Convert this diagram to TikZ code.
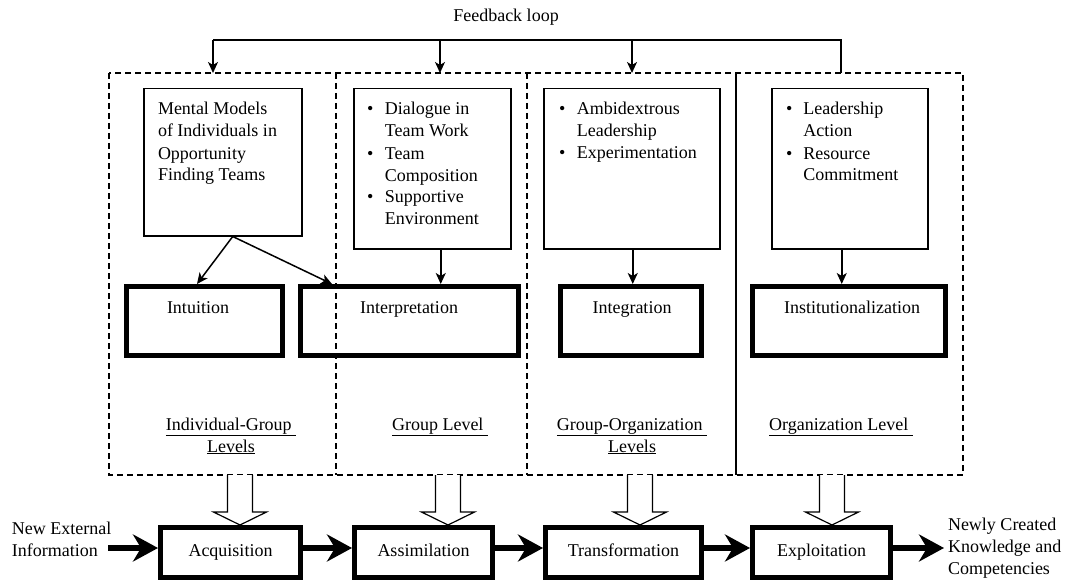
\documentclass[tikz,border=0pt]{standalone}
\usepackage{fontspec}
\setmainfont{Liberation Serif}
\usetikzlibrary{arrows.meta}

\begin{document}
\begin{tikzpicture}[x=1pt,y=-1pt,
  txt/.style={font=\fontsize{18}{22}\selectfont, inner sep=0pt, outer sep=0pt},
  region/.style={line width=1.5pt, dash pattern=on 6pt off 4pt},
  infobox/.style={draw, line width=1.5pt, anchor=north west, inner sep=0pt},
  procbox/.style={draw, line width=5pt, inner sep=0pt},
  flowbox/.style={draw, line width=5pt, inner sep=0pt,
    font=\fontsize{18}{22}\selectfont, text height=12pt, text depth=4pt},
  fbline/.style={line width=1.5pt},
  smallarrow/.style={line width=1.5pt, -{Stealth[length=11pt,width=10pt,inset=3pt]}},
  flowarrow/.style={line width=6pt, -{Stealth[length=25pt,width=27pt,inset=8pt]}},
  hollow/.style={draw, line width=1.2pt, fill=white, line join=miter},
]
\path[fill=white] (0,0) rectangle (1068,583);

% ---- level regions ----
\draw[region] (109,73) rectangle (963,475);
\draw[region] (336,73) -- (336,475);
\draw[region] (527,73) -- (527,475);
\draw[line width=1.5pt] (736,73) -- (736,475);

% ---- feedback loop ----
\node[txt, anchor=base] (fbl) at (506,22) {Feedback loop};
\coordinate (fa) at (213,40);
\coordinate (fb) at (440,40);
\coordinate (fc) at (632,40);
\coordinate (fd) at (841,40);
\coordinate (ea) at (213,73);
\coordinate (eb) at (440,73);
\coordinate (ec) at (632,73);
\coordinate (ed) at (841,73);
\draw[fbline] (ed) -- (fd) -- (fa);
\draw[smallarrow] (fa) -- (ea);
\draw[smallarrow] (fb) -- (eb);
\draw[smallarrow] (fc) -- (ec);

% ---- factor boxes ----
\node[infobox, minimum width=158, minimum height=147] (mm) at (143,88) {};
\node[infobox, minimum width=157, minimum height=160] (dlg) at (353,88) {};
\node[infobox, minimum width=176, minimum height=160] (amb) at (543,88) {};
\node[infobox, minimum width=156, minimum height=160] (lead) at (771,88) {};

\node[txt, anchor=north west] (mmT) at (158,99.6)
  {\begin{tabular}{@{}l@{}}Mental Models\\of Individuals in\\Opportunity\\Finding Teams\end{tabular}};
\node[txt, anchor=north west] (dlgT) at (367,99.6)
  {\begin{tabular}{@{}l@{\hspace{11.5pt}}l@{}}\textbullet & Dialogue in\\ & Team Work\\
   \textbullet & Team\\ & Composition\\ \textbullet & Supportive\\ & Environment\end{tabular}};
\node[txt, anchor=north west] (ambT) at (559,99.6)
  {\begin{tabular}{@{}l@{\hspace{11.5pt}}l@{}}\textbullet & Ambidextrous\\ & Leadership\\
   \textbullet & Experimentation\end{tabular}};
\node[txt, anchor=north west] (leadT) at (786,99.6)
  {\begin{tabular}{@{}l@{\hspace{11pt}}l@{}}\textbullet & Leadership\\ & Action\\
   \textbullet & Resource\\ & Commitment\end{tabular}};

% ---- 4I process boxes ----
\node[procbox, minimum width=156, minimum height=69] (intu) at (204.5,321) {};
\node[procbox, minimum width=218, minimum height=69] (intp) at (409.5,321) {};
\node[procbox, minimum width=141, minimum height=69] (intg) at (631,321) {};
\node[procbox, minimum width=193, minimum height=69] (inst) at (849,321) {};
\node[txt, anchor=base] (intuT) at (198,313) {Intuition};
\node[txt, anchor=base] (intpT) at (409,313) {Interpretation};
\node[txt, anchor=base] (intgT) at (632,313) {Integration};
\node[txt, anchor=base] (instT) at (852,313) {Institutionalization};

\coordinate (mmo) at ([xshift=10pt]mm.south);
\draw[smallarrow] (mmo) -- ([xshift=-7.5pt]intu.north);
\draw[smallarrow] (mmo) -- ([xshift=34pt]intp.north west);
\draw[smallarrow] ([xshift=8.5pt]dlg.south) -- ([xshift=8.5pt]dlg.south |- intp.north);
\draw[smallarrow] ([xshift=1pt]amb.south) -- ([xshift=1pt]amb.south |- intg.north);
\draw[smallarrow] ([xshift=-8pt]lead.south) -- ([xshift=-8pt]lead.south |- inst.north);

% ---- level labels ----
\node[txt, anchor=north] (lv1) at (231,414.6)
  {\begin{tabular}{@{}c@{}}\underline{Individual-Group\ }\\\underline{Levels}\end{tabular}};
\node[txt, anchor=north] (lv2) at (440,414.6)
  {\begin{tabular}{@{}c@{}}\underline{Group Level\ }\end{tabular}};
\node[txt, anchor=north] (lv3) at (632,414.6)
  {\begin{tabular}{@{}c@{}}\underline{Group-Organization\ }\\\underline{Levels}\end{tabular}};
\node[txt, anchor=north] (lv4) at (841,414.6)
  {\begin{tabular}{@{}c@{}}\underline{Organization Level\ }\end{tabular}};

% ---- absorptive capacity flow ----
\node[flowbox, minimum width=140, minimum height=50] (acq) at (230.5,552.5) {Acquisition};
\node[flowbox, minimum width=138, minimum height=50] (asi) at (423.5,552.5) {Assimilation};
\node[flowbox, minimum width=156, minimum height=50] (trf) at (623.5,552.5) {Transformation};
\node[flowbox, minimum width=138, minimum height=50] (exp) at (821.5,552.5) {Exploitation};

% hollow block arrows from the levels down to the flow
\foreach \cx/\nm in {240/h1, 448/h2, 640/h3, 832/h4}{
  \coordinate (\nm) at (\cx,475);
  \draw[hollow] (\nm) ++(-12.5,0) -- ++(0,37) -- ++(-14,0) -- ++(26.5,13)
    -- ++(26.5,-13) -- ++(-14,0) -- ++(0,-37);
}

\node[txt, anchor=north west] (newinfo) at (12,518.6)
  {\begin{tabular}{@{}l@{}}New External\\Information\end{tabular}};
\node[txt, anchor=north west] (result) at (948,514.6)
  {\begin{tabular}{@{}l@{}}Newly Created\\Knowledge and\\Competencies\end{tabular}};

\coordinate (in) at (108,548);
\coordinate (out) at (944,548);
\draw[flowarrow] (in) -- ([yshift=4.5pt]acq.west);
\draw[flowarrow] ([yshift=4.5pt]acq.east) -- ([yshift=4.5pt]asi.west);
\draw[flowarrow] ([yshift=4.5pt]asi.east) -- ([yshift=4.5pt]trf.west);
\draw[flowarrow] ([yshift=4.5pt]trf.east) -- ([yshift=4.5pt]exp.west);
\draw[flowarrow] ([yshift=4.5pt]exp.east) -- (out);
\end{tikzpicture}
\end{document}
